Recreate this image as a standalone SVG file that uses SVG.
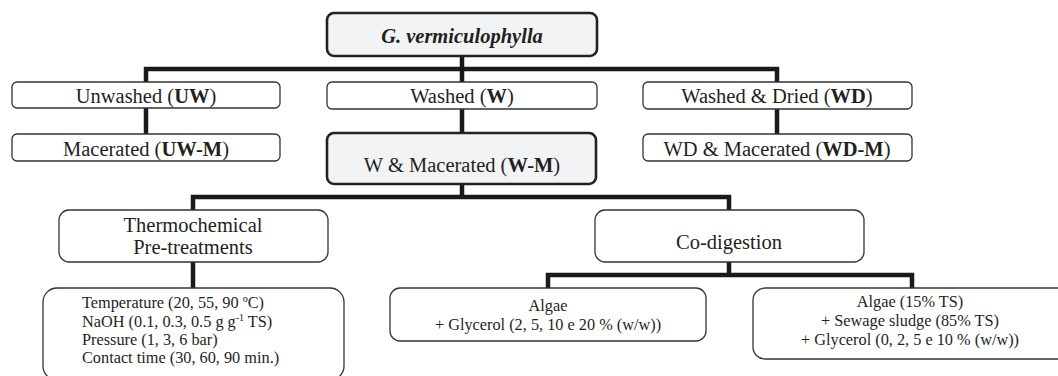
<svg xmlns="http://www.w3.org/2000/svg" width="1058" height="376" viewBox="0 0 1058 376">
<style>
.c{fill:none;stroke:#1a1a1a;stroke-width:4.5;stroke-linecap:butt;stroke-linejoin:miter}
.b{fill:#fff;stroke:#333;stroke-width:1.3}
.k{fill:#f2f3f5;stroke:#222;stroke-width:2.6}
text{font-family:"Liberation Serif","Times New Roman",serif;fill:#231f20}
.l{font-size:20.5px;text-anchor:middle}
.s{font-size:16.3px}
.m{text-anchor:middle}
</style>
<rect width="1058" height="376" fill="#fff"/>
<g id="connectors">
<path class="c" d="M462 56V69M146 134V69H777V134M462 69V133"/>
<path class="c" d="M462 184V197M193 210V197H729V210"/>
<path class="c" d="M193 262V288"/>
<path class="c" d="M729 262V275M548 288V275H912V288"/>
</g>
<g id="n-root"><rect class="k" x="327" y="13" width="270" height="43" rx="7"/>
<text class="l" x="462" y="43" font-weight="bold" font-style="italic">G. vermiculophylla</text></g>
<g id="n-uw"><rect class="b" x="12" y="82" width="268" height="26" rx="5"/>
<text class="l" x="146" y="102.5">Unwashed (<tspan font-weight="bold">UW</tspan>)</text></g>
<g id="n-w"><rect class="b" x="327" y="82" width="270" height="27" rx="5"/>
<text class="l" x="462" y="102.5">Washed (<tspan font-weight="bold">W</tspan>)</text></g>
<g id="n-wd"><rect class="b" x="643" y="82" width="269" height="27" rx="5"/>
<text class="l" x="777" y="102.5">Washed &amp; Dried (<tspan font-weight="bold">WD</tspan>)</text></g>
<g id="n-uwm"><rect class="b" x="12" y="134" width="268" height="27" rx="5"/>
<text class="l" x="146" y="156">Macerated (<tspan font-weight="bold">UW-M</tspan>)</text></g>
<g id="n-wm"><rect class="k" x="327" y="133" width="269" height="51" rx="7"/>
<text class="l" x="462" y="172">W &amp; Macerated (<tspan font-weight="bold">W-M</tspan>)</text></g>
<g id="n-wdm"><rect class="b" x="643" y="134" width="269" height="27" rx="5"/>
<text class="l" x="777" y="156">WD &amp; Macerated (<tspan font-weight="bold">WD-M</tspan>)</text></g>
<g id="n-thermo"><rect class="b" x="59" y="210" width="269" height="52" rx="10"/>
<text class="l" x="193" y="232">Thermochemical</text>
<text class="l" x="193" y="254">Pre-treatments</text></g>
<g id="n-codig"><rect class="b" x="595" y="210" width="269" height="52" rx="10"/>
<text class="l" x="729" y="249">Co-digestion</text></g>
<g id="n-params"><rect class="b" x="43" y="288" width="301" height="92" rx="14"/>
<text class="s" x="82" y="308">Temperature (20, 55, 90 ºC)</text>
<text class="s" x="82" y="327">NaOH (0.1, 0.3, 0.5 g g<tspan dy="-6" font-size="10">-1</tspan><tspan dy="6"> TS)</tspan></text>
<text class="s" x="82" y="345">Pressure (1, 3, 6 bar)</text>
<text class="s" x="82" y="363">Contact time (30, 60, 90 min.)</text></g>
<g id="n-algae"><rect class="b" x="390" y="288" width="316" height="53" rx="10"/>
<text class="s m" x="548" y="311">Algae</text>
<text class="s m" x="548" y="330">+ Glycerol (2, 5, 10 e 20 % (w/w))</text></g>
<g id="n-sludge"><rect class="b" x="753" y="288" width="320" height="71" rx="12"/>
<text class="s m" x="910" y="307">Algae (15% TS)</text>
<text class="s m" x="910" y="326">+ Sewage sludge (85% TS)</text>
<text class="s m" x="910" y="345">+ Glycerol (0, 2, 5 e 10 % (w/w))</text></g>
</svg>
